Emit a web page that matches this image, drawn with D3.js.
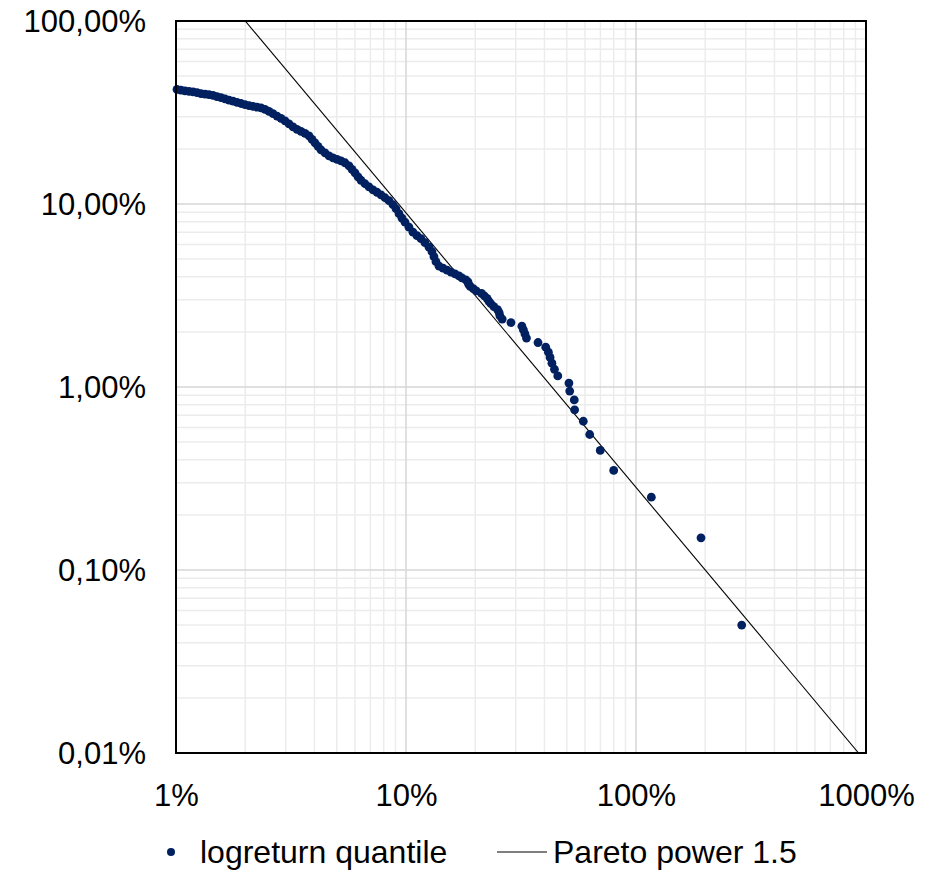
<!DOCTYPE html>
<html>
<head>
<meta charset="utf-8">
<script src="https://cdn.jsdelivr.net/npm/d3@7"></script>
<style>
  html, body { margin: 0; padding: 0; background: #ffffff; }
  svg { display: block; }
  text { font-family: "Liberation Sans", Arial, sans-serif; fill: #000; }
</style>
</head>
<body>
<svg id="chart" width="943" height="870"></svg>
<script>
// ---- data (values in percent) ----
const quantileX = [
  1.010, 1.051, 1.094, 1.139, 1.186, 1.234, 1.284, 1.337, 1.391, 1.448,
  1.507, 1.569, 1.633, 1.700, 1.769, 1.842, 1.917, 1.995, 2.077, 2.162,
  2.250, 2.342, 2.438, 2.537, 2.641, 2.749, 2.861, 2.978, 3.100, 3.227,
  3.358, 3.495, 3.638, 3.787, 3.902, 4.021, 4.143, 4.269, 4.444, 4.627,
  4.816, 5.012, 5.217, 5.430, 5.652, 5.824, 6.002, 6.185, 6.373, 6.633,
  6.904, 7.186, 7.480, 7.785, 8.103, 8.434, 8.779, 9.050, 9.325, 9.607,
  9.901, 10.30, 10.72, 11.16, 11.62, 12.09, 12.59, 12.97, 13.23, 13.50,
  13.92, 14.48, 15.08, 15.69, 16.33, 16.99,
  17.5, 18.2, 18.6, 18.7, 19.0, 19.6, 20.2, 21.3, 21.9, 22.5,
  22.9, 23.4, 24.1, 25.0, 25.4, 25.6, 26.2, 28.6, 31.9, 32.4,
  32.9, 33.4, 37.5, 40.5, 41.6, 42.3, 43.1, 44.2, 45.7, 51.1,
  51.5, 53.9, 54.1, 59.0, 62.9, 69.9, 80.0, 116.6, 191.7, 288.1
];
const quantileY = [
  42.29, 41.86, 41.50, 41.24, 40.98, 40.57, 40.12, 39.81, 39.56, 39.22,
  38.63, 38.10, 37.53, 36.97, 36.46, 35.92, 35.42, 34.89, 34.50, 34.15,
  33.81, 33.51, 32.89, 32.07, 31.16, 30.23, 29.38, 28.47, 27.41, 26.40,
  25.58, 24.95, 24.32, 23.58, 22.56, 21.59, 20.66, 19.77, 19.04, 18.34,
  17.88, 17.55, 17.22, 16.80, 16.17, 15.47, 14.81, 14.08, 13.48, 12.90,
  12.42, 11.96, 11.59, 11.23, 10.82, 10.42, 9.906, 9.421, 8.849, 8.362,
  7.951, 7.467, 7.014, 6.712, 6.464, 6.146, 5.808, 5.489, 5.155, 4.840,
  4.575, 4.462, 4.351, 4.243, 4.148, 4.045,
  3.95, 3.85, 3.75, 3.65, 3.55, 3.45, 3.35, 3.25, 3.15, 3.05,
  2.95, 2.85, 2.75, 2.65, 2.55, 2.45, 2.35, 2.25, 2.15, 2.05,
  1.95, 1.85, 1.75, 1.65, 1.55, 1.45, 1.35, 1.25, 1.15, 1.05,
  0.95, 0.85, 0.75, 0.65, 0.55, 0.45, 0.35, 0.25, 0.15, 0.05
];
// Pareto power 1.5 reference line (two end points on log-log axes)
const paretoX = [2, 928.3];
const paretoY = [100, 0.01];

const xTicks = [1, 10, 100, 1000];
const xTickLabels = ["1%", "10%", "100%", "1000%"];
const yTicks = [0.01, 0.1, 1, 10, 100];
const yTickLabels = ["0,01%", "0,10%", "1,00%", "10,00%", "100,00%"];
const legendLabels = ["logreturn quantile", "Pareto power 1.5"];

// ---- layout ----
const plot = { left: 176, right: 866, top: 21, bottom: 753 };
const dotColor = "#002060";
const fontSize = 31;
const legendFontSize = 32;

const svg = d3.select("#chart");
const x = d3.scaleLog().domain([1, 1000]).range([plot.left, plot.right]);
const y = d3.scaleLog().domain([0.01, 100]).range([plot.bottom, plot.top]);

// minor / major grid values
const xMinor = [], yMinor = [];
[1, 10, 100].forEach(d => { for (let k = 2; k <= 9; k++) xMinor.push(d * k); });
[0.01, 0.1, 1, 10].forEach(d => { for (let k = 2; k <= 9; k++) yMinor.push(d * k); });

const grid = svg.append("g");
grid.selectAll("line.xminor").data(xMinor).enter().append("line")
  .attr("x1", d => x(d)).attr("x2", d => x(d))
  .attr("y1", plot.top).attr("y2", plot.bottom)
  .attr("stroke", "#ececec").attr("stroke-width", 1.5);
grid.selectAll("line.yminor").data(yMinor).enter().append("line")
  .attr("y1", d => y(d)).attr("y2", d => y(d))
  .attr("x1", plot.left).attr("x2", plot.right)
  .attr("stroke", "#ececec").attr("stroke-width", 1.5);
grid.selectAll("line.xmajor").data(xTicks).enter().append("line")
  .attr("x1", d => x(d)).attr("x2", d => x(d))
  .attr("y1", plot.top).attr("y2", plot.bottom)
  .attr("stroke", "#d6d6d6").attr("stroke-width", 1.5);
grid.selectAll("line.ymajor").data(yTicks).enter().append("line")
  .attr("y1", d => y(d)).attr("y2", d => y(d))
  .attr("x1", plot.left).attr("x2", plot.right)
  .attr("stroke", "#d6d6d6").attr("stroke-width", 1.5);

// clip
svg.append("clipPath").attr("id", "clip").append("rect")
  .attr("x", plot.left).attr("y", plot.top)
  .attr("width", plot.right - plot.left).attr("height", plot.bottom - plot.top);

// Pareto line
const paretoData = paretoX.map((v, i) => [v, paretoY[i]]);
svg.append("path")
  .datum(paretoData)
  .attr("clip-path", "url(#clip)")
  .attr("fill", "none").attr("stroke", "#000").attr("stroke-width", 1.1)
  .attr("d", d3.line().x(d => x(d[0])).y(d => y(d[1])));

// scatter
const pts = quantileX.map((v, i) => [v, quantileY[i]]);
svg.append("g").selectAll("circle").data(pts).enter().append("circle")
  .attr("cx", d => x(d[0])).attr("cy", d => y(d[1]))
  .attr("r", 4.4).attr("fill", dotColor);

// border
svg.append("rect")
  .attr("x", plot.left).attr("y", plot.top)
  .attr("width", plot.right - plot.left).attr("height", plot.bottom - plot.top)
  .attr("fill", "none").attr("stroke", "#000").attr("stroke-width", 2);

// axes (labels only)
const xAxis = d3.axisBottom(x).tickValues(xTicks)
  .tickFormat((d, i) => xTickLabels[i]).tickSize(0).tickPadding(0);
const gx = svg.append("g").attr("transform", `translate(0,${plot.bottom})`).call(xAxis);
gx.select(".domain").remove();
gx.selectAll("text").attr("y", 53).attr("dy", null)
  .style("font-size", fontSize + "px").style("font-family", '"Liberation Sans", Arial, sans-serif').attr("fill", "#000");

const yAxis = d3.axisLeft(y).tickValues(yTicks)
  .tickFormat((d, i) => yTickLabels[i]).tickSize(0).tickPadding(30);
const gy = svg.append("g").attr("transform", `translate(${plot.left},0)`).call(yAxis);
gy.select(".domain").remove();
gy.selectAll("text").attr("dy", "0.35em")
  .style("font-size", fontSize + "px").style("font-family", '"Liberation Sans", Arial, sans-serif').attr("fill", "#000");

// legend
const lg = svg.append("g");
lg.append("circle").attr("cx", 171).attr("cy", 852).attr("r", 4).attr("fill", dotColor);
lg.append("text").attr("x", 200).attr("y", 863).style("font-size", legendFontSize + "px").text(legendLabels[0]);
lg.append("line").attr("x1", 497).attr("x2", 547).attr("y1", 852).attr("y2", 852)
  .attr("stroke", "#000").attr("stroke-width", 1.1);
lg.append("text").attr("x", 553).attr("y", 863).style("font-size", legendFontSize + "px").text(legendLabels[1]);
</script>
</body>
</html>
